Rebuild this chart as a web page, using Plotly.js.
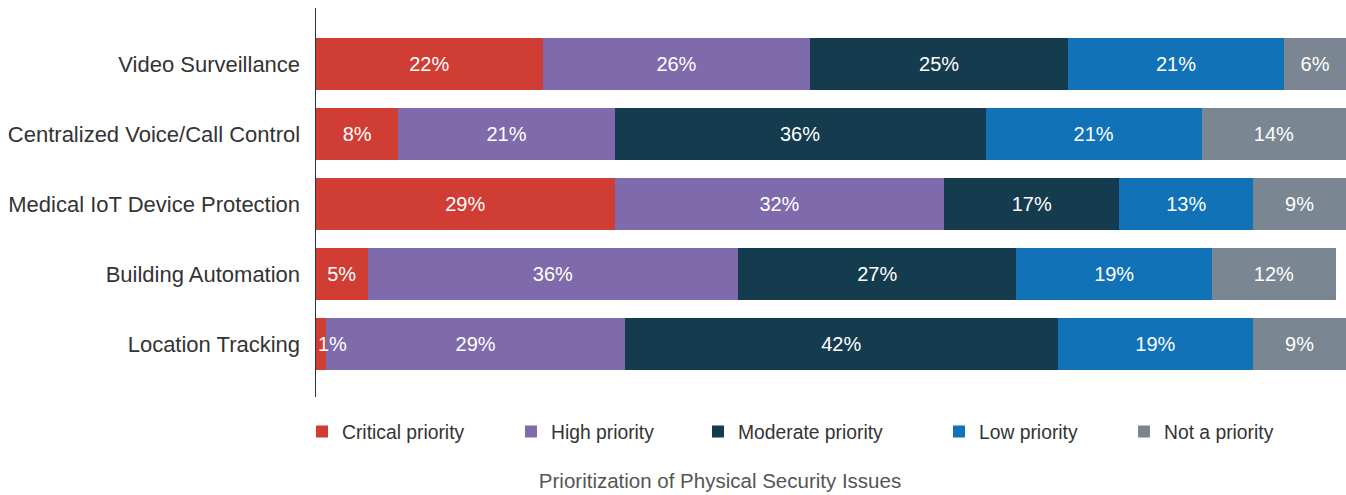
<!DOCTYPE html>
<html>
<head>
<meta charset="utf-8">
<script src="https://cdn.plot.ly/plotly-3.0.1.min.js"></script>
<style>html,body{margin:0;padding:0;background:#fff;}#chart{width:1346px;height:495px;}</style>
</head>
<body>
<div id="chart"></div>
<script>
const categories = ["Video Surveillance", "Centralized Voice/Call Control", "Medical IoT Device Protection", "Building Automation", "Location Tracking"];
const seriesNames = ["Critical priority", "High priority", "Moderate priority", "Low priority", "Not a priority"];
const critical = [22, 8, 29, 5, 1];
const high = [26, 21, 32, 36, 29];
const moderate = [25, 36, 17, 27, 42];
const low = [21, 21, 13, 19, 19];
const notPriority = [6, 14, 9, 12, 9];
const colors = ["#cf3d35", "#7f6aab", "#153b4e", "#1172b7", "#7a8691"];
const chartTitle = "Prioritization of Physical Security Issues";

const seriesValues = [critical, high, moderate, low, notPriority];
const FONT = "Liberation Sans, Arial, sans-serif";
// legend entry left positions (pixels from left of page)
const legendPx = [316, 525, 712, 953, 1138];
const plotLeft = 316, plotWidth = 1030;

// very small segments get their label placed as an annotation beginning at the bar start
const SMALL = 3;
const annotations = [];

const traces = seriesValues.map((vals, i) => {
  const legendId = i === 0 ? "legend" : "legend" + (i + 1);
  const texts = vals.map((v, j) => {
    if (v < SMALL) {
      let base = 0;
      for (let k = 0; k < i; k++) base += seriesValues[k][j];
      annotations.push({
        x: base, y: categories[j], xref: "x", yref: "y",
        xanchor: "left", yanchor: "middle", showarrow: false,
        text: v + "%", font: {color: "#ffffff", size: 20, family: FONT}
      });
      return "";
    }
    return v + "%";
  });
  return {
    type: "bar",
    orientation: "h",
    name: seriesNames[i],
    legend: legendId,
    y: categories,
    x: vals,
    marker: {color: colors[i], line: {width: 0}},
    text: texts,
    textposition: "inside",
    insidetextanchor: "middle",
    textangle: 0,
    constraintext: "none",
    textfont: {color: "#ffffff", size: 20, family: FONT},
    hoverinfo: "skip",
    cliponaxis: false
  };
});

const layout = {
  width: 1346,
  height: 495,
  barmode: "stack",
  bargap: 0.27,
  paper_bgcolor: "#ffffff",
  plot_bgcolor: "#ffffff",
  margin: {l: 316, r: 0, t: 8, b: 98, pad: 0},
  font: {family: FONT, color: "#333333"},
  showlegend: true,
  annotations: annotations,
  title: {
    text: chartTitle,
    x: 720 / 1346, xanchor: "center", xref: "container",
    y: 1 - 481 / 495, yanchor: "middle", yref: "container",
    font: {size: 20.5, color: "#555555", family: FONT}
  },
  xaxis: {
    range: [0, 100],
    visible: false,
    fixedrange: true
  },
  yaxis: {
    type: "category",
    range: [4.757, -0.8],
    showline: true,
    linecolor: "#333333",
    linewidth: 1.5,
    showgrid: false,
    zeroline: false,
    ticks: "",
    ticklabelstandoff: 10,
    tickfont: {size: 22, color: "#333333", family: FONT},
    fixedrange: true
  }
};

legendPx.forEach((px, i) => {
  const key = i === 0 ? "legend" : "legend" + (i + 1);
  layout[key] = {
    orientation: "h",
    x: (px - 14 - plotLeft) / plotWidth, xanchor: "left",
    y: -0.09, yanchor: "middle",
    font: {size: 19.3, color: "#333333", family: FONT},
    bgcolor: "rgba(0,0,0,0)"
  };
});

Plotly.newPlot("chart", traces, layout, {displayModeBar: false, staticPlot: true});
</script>
</body>
</html>
